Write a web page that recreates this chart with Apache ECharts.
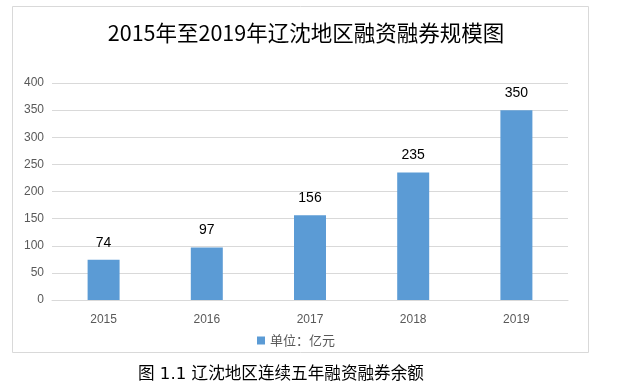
<!DOCTYPE html>
<html><head><meta charset="utf-8">
<script src="https://cdn.jsdelivr.net/npm/echarts@6/dist/echarts.min.js"></script>
<style>html,body{margin:0;padding:0;background:#fff}#c{width:630px;height:388px}</style>
</head><body><div id="c"></div>
<script>
const categories = ['2015','2016','2017','2018','2019'];
const values = [74, 97, 156, 235, 350];
const seriesName = '单位：亿元';
const titleText = '2015年至2019年辽沈地区融资融券规模图';
const captionText = '图 1.1 辽沈地区连续五年融资融券余额';
const yTicks = {min: 0, max: 400, interval: 50};

const chart = echarts.init(document.getElementById('c'), null, {renderer: 'canvas'});
chart.setOption({
  animation: false,
  backgroundColor: '#fff',
  title: {
    text: titleText, left: 301, top: 17, textAlign: 'center',
    textStyle: {fontFamily: 'Noto Sans CJK SC', fontSize: 21.5, fontWeight: 'normal', color: '#000'}
  },
  legend: {
    data: [seriesName], top: 329, left: 252,
    itemWidth: 8, itemHeight: 8, icon: 'rect', itemGap: 5,
    textStyle: {fontFamily: 'Noto Sans CJK SC', fontSize: 13, color: '#595959'}
  },
  grid: {left: 52, right: 62, top: 83, bottom: 88},
  xAxis: {
    type: 'category', data: categories,
    axisLine: {lineStyle: {color: '#d9d9d9'}},
    axisTick: {show: false},
    axisLabel: {fontFamily: 'Liberation Sans', fontSize: 12, color: '#595959', margin: 14}
  },
  yAxis: {
    type: 'value', min: yTicks.min, max: yTicks.max, interval: yTicks.interval,
    axisLine: {show: false}, axisTick: {show: false},
    splitLine: {lineStyle: {color: '#d9d9d9'}},
    axisLabel: {fontFamily: 'Liberation Sans', fontSize: 12, color: '#595959', margin: 8}
  },
  series: [{
    name: seriesName, type: 'bar', data: values, barWidth: '31%',
    itemStyle: {color: '#5b9bd5'},
    label: {show: true, position: 'top', distance: 10, fontFamily: 'Liberation Sans', fontSize: 14, color: '#000'}
  }],
  graphic: [
    {type: 'rect', shape: {x: 12.5, y: 6.5, width: 576, height: 346}, style: {fill: 'none', stroke: '#d9d9d9', lineWidth: 1}, z: -1},
    {type: 'text', left: 138, top: 366, style: {text: captionText, font: '16.6px "DejaVu Sans", "Noto Sans CJK SC"', fill: '#000'}}
  ]
});
</script></body></html>
